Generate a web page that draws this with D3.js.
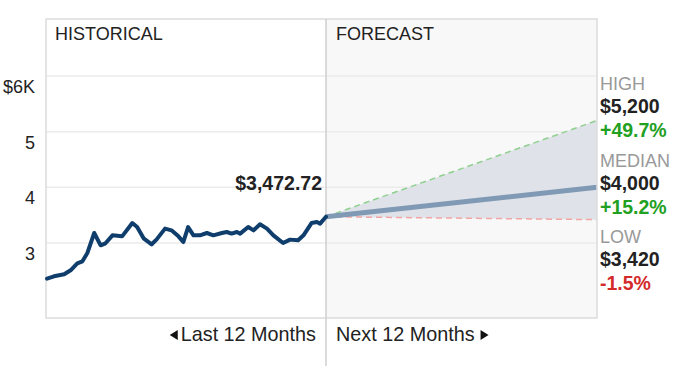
<!DOCTYPE html>
<html>
<head>
<meta charset="utf-8">
<script src="https://cdn.jsdelivr.net/npm/d3@7"></script>
<style>
  html, body { margin: 0; padding: 0; background: #fff; }
  svg { display: block; font-family: "Liberation Sans", Arial, Helvetica, sans-serif; }
</style>
</head>
<body>
<svg id="chart" width="681" height="367"></svg>
<script>
// ---- data ----
const histWeeks = [0, 1.3, 3.2, 4.4, 5.65, 6.6, 7.5, 8.8, 10, 10.9, 12.2, 14, 15.9, 16.8, 18, 19.5, 20.4, 22, 23.2, 24.5, 25.4, 26.3, 27.3, 28.5, 29.8, 31, 32.6, 33.5, 34.4, 35.4, 36, 37.5, 38.5, 39.7, 41, 42.2, 44, 45.3, 46.8, 47.8, 49.3, 50.3, 50.9, 52];
const histValues = [2361, 2402, 2438, 2510, 2636, 2672, 2815, 3180, 2959, 2995, 3138, 3120, 3359, 3287, 3085, 2977, 3061, 3259, 3228, 3120, 3018, 3287, 3138, 3138, 3180, 3138, 3180, 3198, 3169, 3198, 3169, 3287, 3228, 3336, 3259, 3138, 3000, 3061, 3049, 3138, 3359, 3377, 3348, 3472.72];
const lastPrice = 3472.72;
const forecastNames = ["HIGH", "MEDIAN", "LOW"];
const forecastValues = [5200, 4000, 3420];
const forecastPct = ["+49.7%", "+15.2%", "-1.5%"];
const yTicks = [6000, 5000, 4000, 3000];
const yTickLabels = ["$6K", "5", "4", "3"];
const panelTitles = ["HISTORICAL", "FORECAST"];
const periodLabels = ["Last 12 Months", "Next 12 Months"];
const periodWeeks = [0, 52, 104];

// ---- layout ----
const svg = d3.select("#chart");
const L = 46, MID = 326, R = 597, T = 19, B = 318;
const x = d3.scaleLinear().domain(periodWeeks).range([47, MID, R]);
const y = d3.scaleLinear().domain([2000, 6000]).range([298.7, 76]);
const font = 18, boldFont = 19.5, periodFont = 19.8;

// forecast background
svg.append("rect").attr("x", MID).attr("y", T).attr("width", R - MID).attr("height", B - T)
  .attr("fill", "#f8f8f8");

// gridlines
svg.append("g").selectAll("line").data(yTicks).join("line")
  .attr("x1", L).attr("x2", R)
  .attr("y1", d => y(d)).attr("y2", d => y(d))
  .attr("stroke", "#ebebeb").attr("stroke-width", 1.5);

// y labels
svg.append("g").selectAll("text").data(yTicks).join("text")
  .attr("x", 35).attr("y", d => y(d) + 17)
  .attr("text-anchor", "end").attr("font-size", font).attr("fill", "#222")
  .text((d, i) => yTickLabels[i]);

// forecast area
const area = d3.area().x(d => x(d.w)).y0(d => y(d.lo)).y1(d => y(d.hi));
svg.append("path")
  .datum([{ w: 52, lo: lastPrice, hi: lastPrice }, { w: 104, lo: forecastValues[2], hi: forecastValues[0] }])
  .attr("d", area).attr("fill", "#dfe3e9");

const fLine = d3.line().x(d => x(d.w)).y(d => y(d.v));
// high
svg.append("path").datum([{ w: 52, v: lastPrice }, { w: 104, v: forecastValues[0] }])
  .attr("d", fLine).attr("fill", "none").attr("stroke", "#8fd08f").attr("stroke-width", 1.5)
  .attr("stroke-dasharray", "6,4");
// low
svg.append("path").datum([{ w: 52, v: lastPrice }, { w: 104, v: forecastValues[2] }])
  .attr("d", fLine).attr("fill", "none").attr("stroke", "#f2a5a5").attr("stroke-width", 1.5)
  .attr("stroke-dasharray", "6,4");
// median
svg.append("path").datum([{ w: 52, v: lastPrice }, { w: 104, v: forecastValues[1] }])
  .attr("d", fLine).attr("fill", "none").attr("stroke", "#8099b4").attr("stroke-width", 5);

// frame
svg.append("rect").attr("x", L).attr("y", T).attr("width", R - L).attr("height", B - T)
  .attr("fill", "none").attr("stroke", "#dcdcdc").attr("stroke-width", 1.5);
svg.append("line").attr("x1", MID).attr("x2", MID).attr("y1", T).attr("y2", 366)
  .attr("stroke", "#cfcfcf").attr("stroke-width", 1.5);

// historical line
const hData = histWeeks.map((w, i) => ({ w, v: histValues[i] }));
svg.append("path").datum(hData)
  .attr("d", d3.line().x(d => x(d.w)).y(d => y(d.v)).curve(d3.curveLinear))
  .attr("fill", "none").attr("stroke", "#0f3e6d").attr("stroke-width", 4)
  .attr("stroke-linejoin", "round").attr("stroke-linecap", "round");

// last price label
svg.append("text").attr("x", 322).attr("y", 190).attr("text-anchor", "end")
  .attr("font-size", boldFont).attr("font-weight", "bold").attr("fill", "#222")
  .text("$" + d3.format(",.2f")(lastPrice));

// panel titles
svg.append("text").attr("x", 55).attr("y", 40).attr("font-size", font).attr("fill", "#222").text(panelTitles[0]);
svg.append("text").attr("x", 336).attr("y", 40).attr("font-size", font).attr("fill", "#222").text(panelTitles[1]);

// period labels with triangles
const lastText = svg.append("text").attr("x", 316).attr("y", 341).attr("text-anchor", "end")
  .attr("font-size", periodFont).attr("fill", "#222").text(periodLabels[0]);
const lw = lastText.node().getComputedTextLength();
const lx = 316 - lw - 3;
svg.append("path").attr("d", `M${lx - 8},335 L${lx},330 L${lx},340 Z`).attr("fill", "#111");
const nextText = svg.append("text").attr("x", 336).attr("y", 341).attr("font-size", periodFont).attr("fill", "#222")
  .text(periodLabels[1]);
const nw = nextText.node().getComputedTextLength();
const tx = 336 + nw + 6;
svg.append("path").attr("d", `M${tx},330 L${tx + 8},335 L${tx},340 Z`).attr("fill", "#111");

// right labels
const rg = svg.append("g").selectAll("g").data(forecastNames).join("g")
  .attr("transform", (d, i) => `translate(600, ${90 + i * 76.5})`);
rg.append("text").attr("y", 0).attr("font-size", font).attr("fill", "#999").text(d => d);
rg.append("text").attr("y", 23).attr("font-size", boldFont).attr("font-weight", "bold").attr("fill", "#222")
  .text((d, i) => "$" + d3.format(",")(forecastValues[i]));
rg.append("text").attr("y", 47).attr("font-size", boldFont).attr("font-weight", "bold")
  .attr("fill", (d, i) => forecastPct[i].startsWith("-") ? "#d42a2a" : "#22a022")
  .text((d, i) => forecastPct[i]);
</script>
</body>
</html>
